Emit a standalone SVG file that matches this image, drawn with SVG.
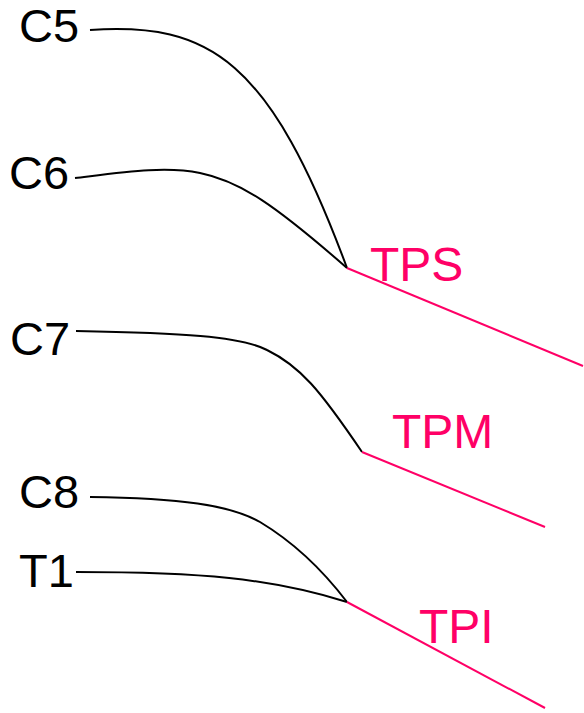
<svg xmlns="http://www.w3.org/2000/svg" width="584" height="713" viewBox="0 0 584 713">
<style>
  .lbl { font-family: "Liberation Sans", Arial, sans-serif; font-size: 47px; fill: #000; }
  .tp { font-family: "Liberation Sans", Arial, sans-serif; font-size: 48px; fill: #ff0066; }
  .nerve { fill: none; stroke: #000; stroke-width: 2; }
  .trunk { fill: none; stroke: #ff0066; stroke-width: 2; }
</style>
<rect width="584" height="713" fill="#fff"/>
<g id="connectors">
  <path class="nerve" d="M90,30 C210,22 270,60 347,268"/>
  <path class="nerve" d="M75,178 C125,172 165,166 200,173 C240,181 275,205 347,268"/>
  <path class="nerve" d="M76,331 C180,333 240,336 267,350 C300,366 320,390 362,452"/>
  <path class="nerve" d="M90,497 C180,498 230,505 260,522 C285,537 315,560 347,602"/>
  <path class="nerve" d="M76,572 C200,572 270,578 347,602"/>
  <path class="trunk" d="M347,268 L583,366"/>
  <path class="trunk" d="M362,452 L545,527"/>
  <path class="trunk" d="M347,602 L545,708"/>
</g>
<g id="C5"><text class="lbl" x="19" y="42">C5</text></g>
<g id="C6"><text class="lbl" x="9" y="189">C6</text></g>
<g id="C7"><text class="lbl" x="10" y="355">C7</text></g>
<g id="C8"><text class="lbl" x="19" y="508">C8</text></g>
<g id="T1"><text class="lbl" x="19" y="587">T1</text></g>
<g id="TPS"><text class="tp" x="370" y="281">TPS</text></g>
<g id="TPM"><text class="tp" x="392" y="448">TPM</text></g>
<g id="TPI"><text class="tp" x="419" y="643">TPI</text></g>
</svg>
